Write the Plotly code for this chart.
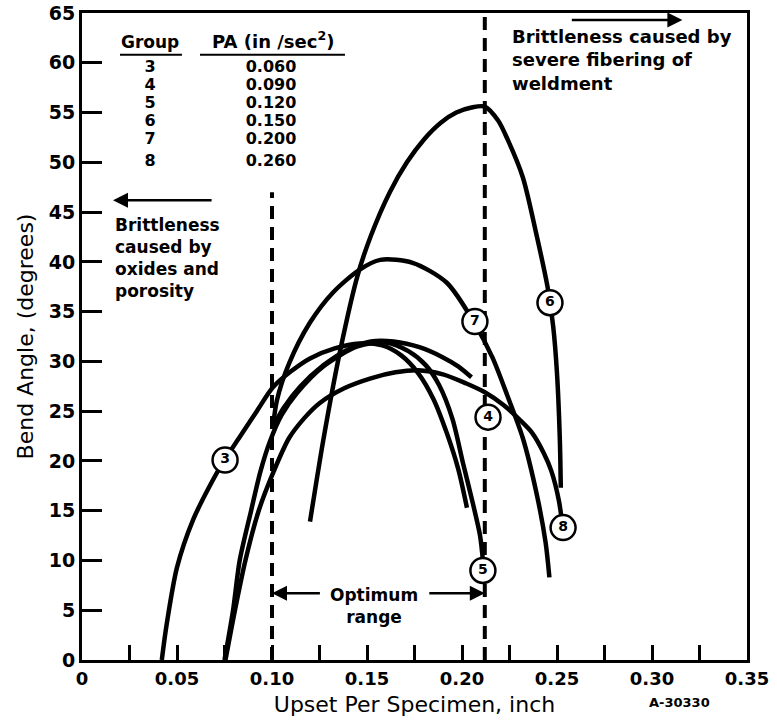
import plotly.graph_objects as go

# ---- data ----
curve_3_x = [0.042, 0.0445, 0.050, 0.0585, 0.067, 0.075, 0.083, 0.092, 0.1005, 0.110, 0.120,
             0.133, 0.146, 0.158, 0.168, 0.177, 0.185, 0.192, 0.198, 0.2026]
curve_3_y = [0, 3.5, 9.3, 14.1, 17.4, 20.1, 22.4, 25.0, 27.4, 29.0, 30.3,
             31.3, 31.8, 31.6, 30.6, 28.8, 26.2, 22.8, 19.2, 15.3]

curve_4_x = [0.1005, 0.106, 0.115, 0.127, 0.140, 0.152, 0.164, 0.178, 0.190, 0.198, 0.205]
curve_4_y = [23.4, 25.3, 27.5, 29.6, 31.2, 32.0, 32.0, 31.4, 30.4, 29.5, 28.4]

curve_5_x = [0.075, 0.0795, 0.083, 0.089, 0.094, 0.099, 0.105, 0.113, 0.127, 0.145, 0.160,
             0.172, 0.181, 0.188, 0.195, 0.2005, 0.205, 0.2095, 0.211]
curve_5_y = [0, 5, 10, 15, 19, 22, 24.6, 26.8, 29.5, 31.5, 31.9,
             31.0, 29.6, 27.6, 24.2, 19.8, 16.3, 12.5, 10.0]

curve_6_x = [0.120, 0.127, 0.136, 0.145, 0.152, 0.162, 0.171, 0.180, 0.189, 0.197, 0.205,
             0.212, 0.219, 0.224, 0.232, 0.239, 0.245, 0.248, 0.250, 0.2515, 0.252]
curve_6_y = [13.9, 22.1, 31.2, 38.6, 42.6, 47.0, 50.0, 52.3, 54.0, 55.0, 55.5,
             55.6, 54.2, 52.3, 48.5, 42.9, 37.5, 33.5, 28.8, 22.1, 17.3]

curve_7_x = [0.1005, 0.1026, 0.109, 0.120, 0.132, 0.146, 0.157, 0.174, 0.192, 0.207, 0.216,
             0.224, 0.232, 0.2395, 0.244, 0.246]
curve_7_y = [23.4, 26.1, 29.8, 33.9, 36.9, 39.2, 40.2, 39.9, 37.9, 33.7, 30.4,
             26.5, 22.3, 16.5, 11.8, 8.3]

curve_8_x = [0.0755, 0.0805, 0.086, 0.093, 0.101, 0.109, 0.117, 0.125, 0.138, 0.152, 0.165,
             0.177, 0.190, 0.202, 0.212, 0.222, 0.230, 0.237, 0.243, 0.247, 0.251, 0.253]
curve_8_y = [0, 5, 10, 15, 19, 22.3, 24.3, 25.8, 27.3, 28.3, 28.9,
             29.1, 28.7, 27.8, 26.9, 25.6, 24.2, 22.8, 20.8, 19.0, 16.0, 13.3]

curves = [(curve_3_x, curve_3_y), (curve_4_x, curve_4_y), (curve_5_x, curve_5_y),
          (curve_6_x, curve_6_y), (curve_7_x, curve_7_y), (curve_8_x, curve_8_y)]

# circled group labels on the curves
label_text = ["3", "4", "5", "6", "7", "8"]
label_x = [0.0753, 0.2137, 0.211, 0.2463, 0.2068, 0.2532]
label_y = [20.1, 24.4, 9.0, 35.9, 34.0, 13.3]

# table of groups
group_ids = ["3", "4", "5", "6", "7", "8"]
pa_values = ["0.060", "0.090", "0.120", "0.150", "0.200", "0.260"]
table_rows_y = [59.5, 57.7, 55.9, 54.1, 52.2, 50.0]

# optimum range limits
optimum_low = 0.10
optimum_high = 0.212

x_tickvals = [0, 0.025, 0.05, 0.075, 0.10, 0.125, 0.15, 0.175, 0.20, 0.225, 0.25, 0.275, 0.30, 0.325, 0.35]
x_ticktext = ["0", "", "0.05", "", "0.10", "", "0.15", "", "0.20", "", "0.25", "", "0.30", "", "0.35"]
y_tickvals = list(range(0, 70, 5))

FONT = "DejaVu Sans"

fig = go.Figure()

for cx, cy in curves:
    fig.add_trace(go.Scatter(x=cx, y=cy, mode="lines",
                             line=dict(color="black", width=4.5, shape="spline", smoothing=0.8),
                             hoverinfo="skip", showlegend=False))

# dashed boundaries of optimum range
fig.add_trace(go.Scatter(x=[optimum_low, optimum_low], y=[0, 47], mode="lines",
                         line=dict(color="black", width=4, dash="13px,8px"),
                         hoverinfo="skip", showlegend=False))
fig.add_trace(go.Scatter(x=[optimum_high, optimum_high], y=[0, 65], mode="lines",
                         line=dict(color="black", width=4, dash="13px,8px"),
                         hoverinfo="skip", showlegend=False))

# circled labels
fig.add_trace(go.Scatter(x=label_x, y=label_y, mode="markers+text", text=label_text,
                         textposition="middle center",
                         textfont=dict(family=FONT, size=14, color="black", weight="bold"),
                         marker=dict(size=25, color="white", line=dict(color="black", width=2.5)),
                         hoverinfo="skip", showlegend=False))

# group table
fig.add_trace(go.Scatter(x=[0.0358] * len(group_ids), y=table_rows_y, mode="text", text=group_ids,
                         textfont=dict(family=FONT, size=16, color="black", weight="bold"),
                         hoverinfo="skip", showlegend=False))
fig.add_trace(go.Scatter(x=[0.0995] * len(pa_values), y=table_rows_y, mode="text", text=pa_values,
                         textfont=dict(family=FONT, size=16, color="black", weight="bold"),
                         hoverinfo="skip", showlegend=False))

txt = dict(family=FONT, size=17, color="black", weight="bold")
arrow = dict(axref="x", ayref="y", text="", showarrow=True,
             arrowhead=2, arrowsize=1.2, arrowwidth=2.5, arrowcolor="black")
annotations = [
    dict(x=0.0358, y=62.1, text="Group", showarrow=False, font=txt),
    dict(x=0.1005, y=62.3, text="PA (in /sec<sup>2</sup>)", showarrow=False,
         font=dict(family=FONT, size=18, color="black", weight="bold")),
    dict(x=0.0163, y=40.4, text="Brittleness<br>caused by<br>oxides and<br>porosity",
         showarrow=False, xanchor="left", align="left", font=txt),
    dict(x=0.2253, y=60.3, text="Brittleness caused by<br>severe fibering of<br>weldment",
         showarrow=False, xanchor="left", align="left",
         font=dict(family=FONT, size=18, color="black", weight="bold")),
    dict(x=0.1535, y=5.4, text="Optimum<br>range", showarrow=False, font=txt),
    # arrows
    dict(x=0.0163, y=46.2, ax=0.069, ay=46.2, **arrow),
    dict(x=0.316, y=64.3, ax=0.257, ay=64.3, **arrow),
    dict(x=optimum_low, y=6.7, ax=0.126, ay=6.7, **arrow),
    dict(x=optimum_high, y=6.7, ax=0.182, ay=6.7, **arrow),
    dict(x=0.947, y=-0.08, xref="paper", yref="paper", text="A-30330", showarrow=False,
         font=dict(family=FONT, size=13, color="black", weight="bold")),
]

shapes = [
    dict(type="line", x0=0.020, x1=0.0526, y0=60.8, y1=60.8, line=dict(color="black", width=2)),
    dict(type="line", x0=0.0621, x1=0.1384, y0=60.8, y1=60.8, line=dict(color="black", width=2)),
]

fig.update_layout(
    width=777, height=727,
    paper_bgcolor="white", plot_bgcolor="white",
    margin=dict(l=82, r=30, t=13, b=67),
    annotations=annotations, shapes=shapes,
    font=dict(family=FONT, color="black"),
)
fig.update_xaxes(range=[0, 0.35], tickvals=x_tickvals, ticktext=x_ticktext, automargin=False,
                 ticks="inside", ticklen=15, tickwidth=3, tickcolor="black",
                 showline=True, linewidth=3, linecolor="black", mirror=True,
                 showgrid=False, zeroline=False,
                 tickfont=dict(family=FONT, size=18, color="black", weight="bold"),
                 title=dict(text="Upset Per Specimen, inch", standoff=10,
                            font=dict(family=FONT, size=22, color="black")))
fig.update_yaxes(range=[0, 65], tickvals=y_tickvals, automargin=False,
                 ticks="inside", ticklen=20, tickwidth=3, tickcolor="black",
                 showline=True, linewidth=3, linecolor="black", mirror=True,
                 showgrid=False, zeroline=False, ticklabeloverflow="allow",
                 tickfont=dict(family=FONT, size=19, color="black", weight="bold"),
                 title=dict(text="Bend Angle, (degrees)", standoff=10,
                            font=dict(family=FONT, size=22, color="black")))

# drop the default 8px page margin so the figure fills the window exactly
fig.write_html("out.html", config={"displayModeBar": False},
               post_script="document.body.style.margin = '0px';")
